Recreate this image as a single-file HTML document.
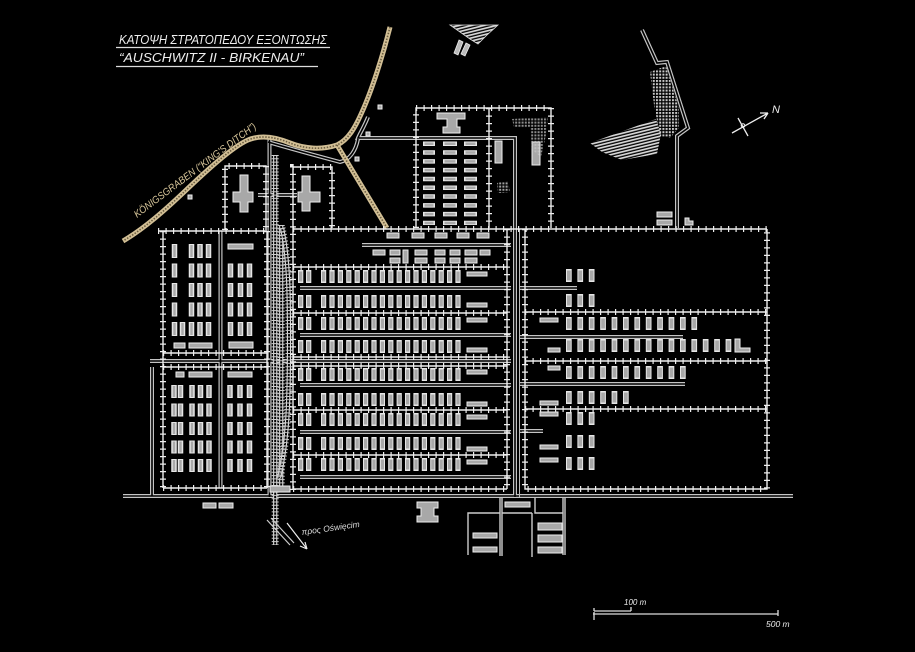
<!DOCTYPE html>
<html><head><meta charset="utf-8"><style>
html,body{margin:0;padding:0;background:#000;}
svg{display:block;}
.f{fill:none;stroke:#eee;stroke-width:1.4;}
.ft{fill:none;stroke:#eee;stroke-width:6;stroke-dasharray:1.2 6.3;}
.ro{fill:none;stroke:#c4c4c4;stroke-width:4;}
.ri{fill:none;stroke:#000;stroke-width:1.6;}
.bx{fill:#a8a8a8;stroke:#eee;stroke-width:1;}
.b1o{stroke:#e6e6e6;stroke-width:5.5;stroke-dasharray:14 5.5;}
.b1i{stroke:#a8a8a8;stroke-width:2.5;stroke-dasharray:12 7.5;stroke-dashoffset:-1;}
.b1bo{stroke:#e6e6e6;stroke-width:5.5;stroke-dasharray:13 5.5;}
.b1bi{stroke:#a8a8a8;stroke-width:2.5;stroke-dasharray:11 7.5;stroke-dashoffset:-1;}
.b3o{stroke:#e6e6e6;stroke-width:13;stroke-dasharray:5.7 5.7;}
.b3i{stroke:#a8a8a8;stroke-width:10;stroke-dasharray:3.7 7.7;stroke-dashoffset:-1;}
.k{stroke-dasharray:4.5 4.3;stroke:#e6e6e6;}
.ki{stroke-dasharray:2.5 6.3;stroke-dashoffset:-1;stroke:#a8a8a8;}
.t{font-family:"Liberation Sans Narrow","Liberation Sans","DejaVu Sans",sans-serif;font-style:italic;}
</style></head><body>
<svg width="915" height="652" viewBox="0 0 915 652" xmlns="http://www.w3.org/2000/svg">
<defs>
<pattern id="st" patternUnits="userSpaceOnUse" width="6" height="3" patternTransform="rotate(-14)"><rect width="6" height="1.7" fill="#d8d8d8"/></pattern>
<pattern id="dt" patternUnits="userSpaceOnUse" width="3.2" height="3.2"><rect width="2" height="2" fill="#c8c8c8"/></pattern>
<path id="fences" d="M158,231 H267 M163,231 V488 M267,231 V488 M163,488 H267 M163,353 H267 M163,367 H267
M225,230 V166 H266 V230
M293,490 V167 H332 V228
M293,229 H767
M293,267 H507 M293,313 H507 M293,357 H507 M293,366 H507 M293,410 H507 M293,455 H507 M293,489 H507 M507,229 V489
M525,229 V489 H767 V229 M525,312 H767 M525,361 H767 M525,409 H767
M416,228 V108 H551 V228 M489,108 V228"/>
<path id="roads" d="M368,117 C364,127 360,133 358,138 H515 V497
M268,142 C295,150 325,158 340,162 C350,160 356,150 358,139
M362,245 H511 M300,288 H511 M300,335 H511 M150,361 H511 M300,385 H511 M300,432 H511 M300,477 H511
M519,288 H577 M519,337 H683 M519,384 H685 M519,431 H543
M123,496 H793
M220.5,231 V488 M258,195 H297 M152,367 V496 M269.5,137 V497
M642,30 L657,63 L667,62 L688,128 L677,136 V228"/>
<g id="r2">
<line x1="298" x2="311.3" y1="6.5" y2="6.5" stroke="#e6e6e6" stroke-width="13" stroke-dasharray="5.3 2.7"/>
<line x1="321" x2="463.8" y1="6.5" y2="6.5" stroke="#e6e6e6" stroke-width="13" stroke-dasharray="5.2 3.2"/>
<line x1="298" x2="311.3" y1="6.5" y2="6.5" stroke="#a8a8a8" stroke-width="10" stroke-dasharray="3.3 4.7" stroke-dashoffset="-1"/>
<line x1="321" x2="463.8" y1="6.5" y2="6.5" stroke="#a8a8a8" stroke-width="10" stroke-dasharray="3.2 5.2" stroke-dashoffset="-1"/>
</g>
</defs>
<rect width="915" height="652" fill="#000"/>

<!-- Title -->
<text class="t" x="119" y="44" font-size="12.5" fill="#eee" textLength="208" lengthAdjust="spacingAndGlyphs">ΚΑΤΟΨΗ ΣΤΡΑΤΟΠΕΔΟΥ ΕΞΟΝΤΩΣΗΣ</text>
<line x1="116" y1="47.5" x2="330" y2="47.5" stroke="#ddd" stroke-width="1.2"/>
<text class="t" x="119" y="62" font-size="12.5" fill="#eee" textLength="185" lengthAdjust="spacingAndGlyphs">“AUSCHWITZ II - BIRKENAU”</text>
<line x1="116" y1="66.5" x2="318" y2="66.5" stroke="#ddd" stroke-width="1.2"/>

<!-- roads -->
<use href="#roads" class="ro"/>
<use href="#roads" class="ri"/>
<line x1="519.5" y1="229" x2="519.5" y2="497" stroke="#bbb" stroke-width="1"/>

<!-- Königsgraben -->
<path d="M390,27 C383,55 372,90 362,112 C355,128 348,140 337,145 C322,150 305,149 290,143 C278,138 262,134 248,140 C232,147 205,172 183,193 C165,210 145,228 123,241 M337,145 L387,228" fill="none" stroke="#d2bf95" stroke-width="5"/>
<path d="M390,27 C383,55 372,90 362,112 C355,128 348,140 337,145 C322,150 305,149 290,143 C278,138 262,134 248,140 C232,147 205,172 183,193 C165,210 145,228 123,241 M337,145 L387,228" fill="none" stroke="#6b5d40" stroke-width="1.6" stroke-dasharray="1.5 1.5"/>
<text class="t" transform="translate(137,218) rotate(-37)" font-size="10" fill="#d9c79b" textLength="150" lengthAdjust="spacingAndGlyphs">KÖNIGSGRABEN (“KING'S DITCH”)</text>

<!-- rails -->
<g fill="none">
<line x1="275.2" y1="155" x2="275.2" y2="545" stroke="#ddd" stroke-width="4.2"/>
<line x1="275.2" y1="155" x2="275.2" y2="545" stroke="#000" stroke-width="2"/>
<line x1="281.2" y1="225" x2="281.2" y2="492" stroke="#ddd" stroke-width="4.2"/>
<line x1="281.2" y1="225" x2="281.2" y2="492" stroke="#000" stroke-width="2"/>
<path d="M282,228 C289,260 289,300 289,340 C289,400 288,440 279,478" stroke="#ddd" stroke-width="4.2"/>
<path d="M282,228 C289,260 289,300 289,340 C289,400 288,440 279,478" stroke="#000" stroke-width="2"/>
<line x1="275.2" y1="155" x2="275.2" y2="545" stroke="#ccc" stroke-width="7" stroke-dasharray="1 2.3"/>
<line x1="281.2" y1="225" x2="281.2" y2="492" stroke="#ccc" stroke-width="7" stroke-dasharray="1 2.3"/>
<path d="M282,228 C289,260 289,300 289,340 C289,400 288,440 279,478" stroke="#ccc" stroke-width="7" stroke-dasharray="1 2.3"/>
<path d="M267,520 L290,545 M271,518 L294,543" stroke="#ccc" stroke-width="1.2"/>
<path d="M287,523 L307,549 M307,549 L300,546 M307,549 L305,542" stroke="#eee" stroke-width="1.2"/>
</g>
<text class="t" transform="translate(302,535) rotate(-8)" font-size="8.5" fill="#ddd">προς Oświęcim</text>

<!-- fences -->
<use href="#fences" class="f"/>
<use href="#fences" class="ft"/>

<!-- crematoria crosses -->
<path class="bx" d="M240,175 H248 V192 H253 V202 H248 V212 H240 V202 H233 V192 H240 Z"/>
<path class="bx" d="M302,176 H310 V192 H320 V202 H310 V211 H302 V202 H298 V192 H302 Z"/>
<rect class="bx" x="378" y="105" width="4" height="4"/>
<rect class="bx" x="366" y="132" width="4" height="4"/>
<rect class="bx" x="355" y="157" width="4" height="4"/>
<rect class="bx" x="188" y="195" width="4" height="4"/>

<!-- Kanada region -->
<path class="bx" d="M437,113 H465 V119 H457 V127 H460 V133 H443 V127 H447 V119 H437 Z"/>
<line class="k" x1="429" y1="141.5" x2="429" y2="225" stroke-width="12"/>
<line class="k" x1="450" y1="141.5" x2="450" y2="225" stroke-width="14"/>
<line class="k" x1="470.5" y1="141.5" x2="470.5" y2="225" stroke-width="13"/>
<line class="ki" x1="429" y1="141.5" x2="429" y2="225" stroke-width="9"/>
<line class="ki" x1="450" y1="141.5" x2="450" y2="225" stroke-width="11"/>
<line class="ki" x1="470.5" y1="141.5" x2="470.5" y2="225" stroke-width="10"/>
<rect class="bx" x="495" y="141" width="7" height="22"/>
<rect class="bx" x="532" y="142" width="8" height="23"/>
<path d="M512,119 L548,117 L546,135 L541,157 L532,150 L530,128 L514,127 Z" fill="url(#dt)" opacity="0.7"/>
<path d="M497,183 L508,181 L510,192 L498,193 Z" fill="url(#dt)" opacity="0.8"/>

<!-- top features -->
<path d="M450,25 L498,25 L487,35 L478,44 L470,39 Z" fill="url(#st)" stroke="#ddd" stroke-width="0.8"/>
<path d="M459,40 L463,42 L458,55 L454,53 Z M466,43 L470,45 L465,56 L461,54 Z" fill="#bbb" stroke="#eee" stroke-width="0.8"/>
<path d="M650,72 L666,66 L679,108 L679,128 L670,138 L660,136 L654,105 Z" fill="url(#dt)"/>
<path d="M590,143 L656,119 L661,134 L657,154 L622,160 L602,152 Z" fill="url(#st)"/>
<path d="M732,133 L768,113 M768,113 L760,113 M768,113 L764,119 M738,118 L748,136" stroke="#eee" stroke-width="1.3" fill="none"/>
<circle cx="743" cy="125.5" r="1.8" fill="none" stroke="#eee" stroke-width="1"/>
<text class="t" x="772" y="113" font-size="11" fill="#eee">N</text>
<rect class="bx" x="657" y="212" width="15" height="5"/>
<rect class="bx" x="657" y="220" width="15" height="5"/>
<path class="bx" d="M685,218 H689 V221 H693 V225 H685 Z"/>

<!-- BI barracks -->
<g>
<line class="b1o" x1="174.5" y1="244" x2="174.5" y2="337.5"/>
<line class="b1o" x1="191.5" y1="244" x2="191.5" y2="337.5"/>
<line class="b1o" x1="200" y1="244" x2="200" y2="337.5"/>
<line class="b1o" x1="208.5" y1="244" x2="208.5" y2="337.5"/>
<line class="b1o" x1="182.5" y1="322" x2="182.5" y2="336"/>
<line class="b1o" x1="230.5" y1="263.5" x2="230.5" y2="337.5"/>
<line class="b1o" x1="240.5" y1="263.5" x2="240.5" y2="337.5"/>
<line class="b1o" x1="249.5" y1="263.5" x2="249.5" y2="337.5"/>
<line class="b1i" x1="174.5" y1="244" x2="174.5" y2="337.5"/>
<line class="b1i" x1="191.5" y1="244" x2="191.5" y2="337.5"/>
<line class="b1i" x1="200" y1="244" x2="200" y2="337.5"/>
<line class="b1i" x1="208.5" y1="244" x2="208.5" y2="337.5"/>
<line class="b1i" x1="182.5" y1="322" x2="182.5" y2="336"/>
<line class="b1i" x1="230.5" y1="263.5" x2="230.5" y2="337.5"/>
<line class="b1i" x1="240.5" y1="263.5" x2="240.5" y2="337.5"/>
<line class="b1i" x1="249.5" y1="263.5" x2="249.5" y2="337.5"/>
<rect class="bx" x="228" y="244" width="25" height="5"/>
<rect class="bx" x="229" y="342" width="24" height="6"/>
<rect class="bx" x="174" y="343" width="11" height="5"/>
<rect class="bx" x="189" y="343" width="23" height="5"/>
<rect class="bx" x="176" y="372" width="8" height="5"/>
<rect class="bx" x="189" y="372" width="23" height="5"/>
<rect class="bx" x="228" y="372" width="24" height="5"/>
<line class="b1bo" x1="174" y1="385" x2="174" y2="472"/>
<line class="b1bo" x1="180.5" y1="385" x2="180.5" y2="472"/>
<line class="b1bo" x1="192" y1="385" x2="192" y2="472"/>
<line class="b1bo" x1="200.5" y1="385" x2="200.5" y2="472"/>
<line class="b1bo" x1="209" y1="385" x2="209" y2="472"/>
<line class="b1bo" x1="230" y1="385" x2="230" y2="472"/>
<line class="b1bo" x1="240" y1="385" x2="240" y2="472"/>
<line class="b1bo" x1="249.5" y1="385" x2="249.5" y2="472"/>
<line class="b1bi" x1="174" y1="385" x2="174" y2="472"/>
<line class="b1bi" x1="180.5" y1="385" x2="180.5" y2="472"/>
<line class="b1bi" x1="192" y1="385" x2="192" y2="472"/>
<line class="b1bi" x1="200.5" y1="385" x2="200.5" y2="472"/>
<line class="b1bi" x1="209" y1="385" x2="209" y2="472"/>
<line class="b1bi" x1="230" y1="385" x2="230" y2="472"/>
<line class="b1bi" x1="240" y1="385" x2="240" y2="472"/>
<line class="b1bi" x1="249.5" y1="385" x2="249.5" y2="472"/>
</g>

<!-- BIIa buildings -->
<g>
<rect class="bx" x="387" y="233" width="12" height="5"/>
<rect class="bx" x="412" y="233" width="12" height="5"/>
<rect class="bx" x="435" y="233" width="12" height="5"/>
<rect class="bx" x="457" y="233" width="12" height="5"/>
<rect class="bx" x="477" y="233" width="12" height="5"/>
<rect class="bx" x="373" y="250" width="12" height="5"/>
<rect class="bx" x="390" y="250" width="10" height="5"/>
<rect class="bx" x="403" y="250" width="5" height="13"/>
<rect class="bx" x="415" y="250" width="12" height="5"/>
<rect class="bx" x="435" y="250" width="10" height="5"/>
<rect class="bx" x="450" y="250" width="10" height="5"/>
<rect class="bx" x="465" y="250" width="12" height="5"/>
<rect class="bx" x="480" y="250" width="10" height="5"/>
<rect class="bx" x="390" y="258" width="10" height="5"/>
<rect class="bx" x="415" y="258" width="12" height="5"/>
<rect class="bx" x="435" y="258" width="10" height="5"/>
<rect class="bx" x="450" y="258" width="10" height="5"/>
<rect class="bx" x="465" y="258" width="12" height="5"/>
</g>

<!-- BII barracks rows -->
<use href="#r2" y="270"/>
<use href="#r2" y="295"/>
<use href="#r2" y="317"/>
<use href="#r2" y="340"/>
<use href="#r2" y="368"/>
<use href="#r2" y="393"/>
<use href="#r2" y="413"/>
<use href="#r2" y="437"/>
<use href="#r2" y="458"/>
<g>
<rect class="bx" x="467" y="272" width="20" height="4"/>
<rect class="bx" x="467" y="303" width="20" height="4"/>
<rect class="bx" x="467" y="318" width="20" height="4"/>
<rect class="bx" x="467" y="348" width="20" height="4"/>
<rect class="bx" x="467" y="370" width="20" height="4"/>
<rect class="bx" x="467" y="402" width="20" height="4"/>
<rect class="bx" x="467" y="415" width="20" height="4"/>
<rect class="bx" x="467" y="447" width="20" height="4"/>
<rect class="bx" x="467" y="460" width="20" height="4"/>
<rect class="bx" x="270" y="486" width="20" height="6"/>
</g>

<!-- BIII barracks -->
<g>
<line class="b3o" x1="566" y1="275.5" x2="594.5" y2="275.5"/>
<line class="b3o" x1="566" y1="300.5" x2="594.5" y2="300.5"/>
<line class="b3o" x1="566" y1="323.5" x2="697.1" y2="323.5"/>
<line class="b3o" x1="566" y1="345.5" x2="731.3" y2="345.5"/>
<line class="b3o" x1="566" y1="372.5" x2="685.7" y2="372.5"/>
<line class="b3o" x1="566" y1="397.5" x2="628.7" y2="397.5"/>
<line class="b3o" x1="566" y1="418.5" x2="594.5" y2="418.5"/>
<line class="b3o" x1="566" y1="441.5" x2="594.5" y2="441.5"/>
<line class="b3o" x1="566" y1="463.5" x2="594.5" y2="463.5"/>
<line class="b3i" x1="566" y1="275.5" x2="594.5" y2="275.5"/>
<line class="b3i" x1="566" y1="300.5" x2="594.5" y2="300.5"/>
<line class="b3i" x1="566" y1="323.5" x2="697.1" y2="323.5"/>
<line class="b3i" x1="566" y1="345.5" x2="731.3" y2="345.5"/>
<line class="b3i" x1="566" y1="372.5" x2="685.7" y2="372.5"/>
<line class="b3i" x1="566" y1="397.5" x2="628.7" y2="397.5"/>
<line class="b3i" x1="566" y1="418.5" x2="594.5" y2="418.5"/>
<line class="b3i" x1="566" y1="441.5" x2="594.5" y2="441.5"/>
<line class="b3i" x1="566" y1="463.5" x2="594.5" y2="463.5"/>
<rect class="bx" x="540" y="318" width="18" height="4"/>
<rect class="bx" x="548" y="348" width="12" height="4"/>
<rect class="bx" x="548" y="366" width="12" height="4"/>
<rect class="bx" x="540" y="401" width="18" height="4"/>
<rect class="bx" x="540" y="412" width="18" height="4"/>
<rect class="bx" x="540" y="445" width="18" height="4"/>
<rect class="bx" x="540" y="458" width="18" height="4"/>
<path class="bx" d="M735,339 H740 V348 H750 V352 H735 Z"/>
</g>

<!-- bottom structures -->
<g fill="none" stroke="#ccc" stroke-width="1.4">
<path d="M468,555 V513 H500 M500,498 V556 M502,498 V556 M502,513 H532 M532,513 V557 M535,498 V513 H563 M565,498 V555 M563,498 V555"/>
</g>
<rect class="bx" x="505" y="502" width="25" height="5"/>
<rect class="bx" x="473" y="533" width="24" height="5"/>
<rect class="bx" x="473" y="547" width="24" height="5"/>
<rect class="bx" x="538" y="523" width="24" height="7"/>
<rect class="bx" x="538" y="535" width="24" height="7"/>
<rect class="bx" x="538" y="547" width="24" height="6"/>
<path class="bx" d="M417,502 H438 V508 H434 V516 H438 V522 H417 V516 H421 V508 H417 Z"/>
<rect class="bx" x="203" y="503" width="13" height="5"/>
<rect class="bx" x="219" y="503" width="14" height="5"/>

<!-- scale -->
<g fill="none" stroke="#ddd" stroke-width="1.3">
<path d="M593,614 H778 M594,612 V620 M778,610 V616"/>
<path d="M594,611 H631 M594,608 V611 M631,607 V611"/>
</g>
<text class="t" x="624" y="605" font-size="8" fill="#eee">100 m</text>
<text class="t" x="766" y="627" font-size="8.5" fill="#eee">500 m</text>
</svg>
</body></html>
